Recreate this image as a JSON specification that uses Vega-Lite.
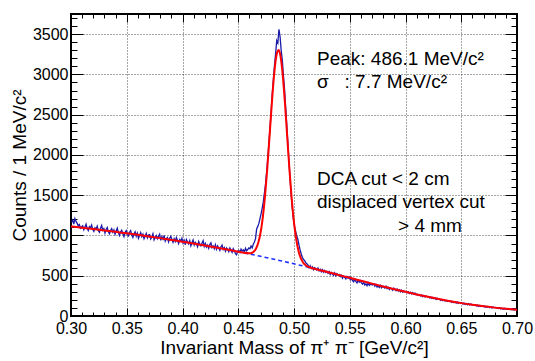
{
  "$schema": "https://vega.github.io/schema/vega-lite/v6.json",
  "width": 446,
  "height": 302,
  "autosize": {"type": "none"},
  "padding": {"left": 71, "top": 14, "right": 18, "bottom": 45},
  "background": "white",
  "config": {
    "view": {"stroke": "black", "strokeWidth": 2},
    "axis": {"labelFont": "Liberation Sans", "titleFont": "Liberation Sans", "labelColor": "black", "titleColor": "black", "titleFontWeight": "normal"}
  },
  "datasets": {
    "one": [{"k": 1}],
    "hist": [
      {"m":0.3005,"n":1165},{"m":0.3015,"n":1190},{"m":0.3025,"n":1140},{"m":0.3035,"n":1210},{"m":0.3045,"n":1175},{"m":0.3055,"n":1150},{"m":0.3065,"n":1120},{"m":0.3075,"n":1135},{"m":0.3085,"n":1090},{"m":0.3095,"n":1105},
      {"m":0.3105,"n":1120},{"m":0.3115,"n":1070},{"m":0.3125,"n":1105},{"m":0.3135,"n":1140},{"m":0.3145,"n":1085},{"m":0.3155,"n":1060},{"m":0.3165,"n":1110},{"m":0.3175,"n":1095},{"m":0.3185,"n":1130},{"m":0.3195,"n":1075},
      {"m":0.3205,"n":1050},{"m":0.3215,"n":1095},{"m":0.3225,"n":1080},{"m":0.3235,"n":1115},{"m":0.3245,"n":1060},{"m":0.3255,"n":1040},{"m":0.3265,"n":1090},{"m":0.3275,"n":1125},{"m":0.3285,"n":1065},{"m":0.3295,"n":1085},
      {"m":0.3305,"n":1030},{"m":0.3315,"n":1075},{"m":0.3325,"n":1100},{"m":0.3335,"n":1045},{"m":0.3345,"n":1020},{"m":0.3355,"n":1060},{"m":0.3365,"n":1085},{"m":0.3375,"n":1040},{"m":0.3385,"n":1070},{"m":0.3395,"n":1015},
      {"m":0.3405,"n":1055},{"m":0.3415,"n":1090},{"m":0.3425,"n":1035},{"m":0.3435,"n":1000},{"m":0.3445,"n":1045},{"m":0.3455,"n":1065},{"m":0.3465,"n":1020},{"m":0.3475,"n":985},{"m":0.3485,"n":1040},{"m":0.3495,"n":1060},
      {"m":0.3505,"n":1010},{"m":0.3515,"n":995},{"m":0.3525,"n":1040},{"m":0.3535,"n":1060},{"m":0.3545,"n":1005},{"m":0.3555,"n":975},{"m":0.3565,"n":1020},{"m":0.3575,"n":1045},{"m":0.3585,"n":990},{"m":0.3595,"n":1030},
      {"m":0.3605,"n":965},{"m":0.3615,"n":1000},{"m":0.3625,"n":1035},{"m":0.3635,"n":985},{"m":0.3645,"n":1015},{"m":0.3655,"n":960},{"m":0.3665,"n":990},{"m":0.3675,"n":1025},{"m":0.3685,"n":970},{"m":0.3695,"n":1005},
      {"m":0.3705,"n":1010},{"m":0.3715,"n":955},{"m":0.3725,"n":980},{"m":0.3735,"n":1020},{"m":0.3745,"n":945},{"m":0.3755,"n":975},{"m":0.3765,"n":1000},{"m":0.3775,"n":960},{"m":0.3785,"n":990},{"m":0.3795,"n":1015},
      {"m":0.3805,"n":940},{"m":0.3815,"n":985},{"m":0.3825,"n":955},{"m":0.3835,"n":1000},{"m":0.3845,"n":930},{"m":0.3855,"n":960},{"m":0.3865,"n":975},{"m":0.3875,"n":920},{"m":0.3885,"n":965},{"m":0.3895,"n":990},
      {"m":0.3905,"n":950},{"m":0.3915,"n":915},{"m":0.3925,"n":960},{"m":0.3935,"n":925},{"m":0.3945,"n":975},{"m":0.3955,"n":940},{"m":0.3965,"n":900},{"m":0.3975,"n":950},{"m":0.3985,"n":930},{"m":0.3995,"n":965},
      {"m":0.4005,"n":905},{"m":0.4015,"n":940},{"m":0.4025,"n":885},{"m":0.4035,"n":950},{"m":0.4045,"n":920},{"m":0.4055,"n":895},{"m":0.4065,"n":935},{"m":0.4075,"n":870},{"m":0.4085,"n":910},{"m":0.4095,"n":945},
      {"m":0.4105,"n":880},{"m":0.4115,"n":915},{"m":0.4125,"n":895},{"m":0.4135,"n":860},{"m":0.4145,"n":925},{"m":0.4155,"n":890},{"m":0.4165,"n":870},{"m":0.4175,"n":905},{"m":0.4185,"n":935},{"m":0.4195,"n":865},
      {"m":0.4205,"n":900},{"m":0.4215,"n":855},{"m":0.4225,"n":880},{"m":0.4235,"n":840},{"m":0.4245,"n":890},{"m":0.4255,"n":910},{"m":0.4265,"n":850},{"m":0.4275,"n":870},{"m":0.4285,"n":835},{"m":0.4295,"n":885},
      {"m":0.4305,"n":830},{"m":0.4315,"n":870},{"m":0.4325,"n":845},{"m":0.4335,"n":815},{"m":0.4345,"n":860},{"m":0.4355,"n":880},{"m":0.4365,"n":825},{"m":0.4375,"n":850},{"m":0.4385,"n":805},{"m":0.4395,"n":845},
      {"m":0.4405,"n":830},{"m":0.4415,"n":800},{"m":0.4425,"n":845},{"m":0.4435,"n":815},{"m":0.4445,"n":790},{"m":0.4455,"n":835},{"m":0.4465,"n":810},{"m":0.4475,"n":775},{"m":0.4485,"n":760},{"m":0.4495,"n":805},
      {"m":0.4505,"n":815},{"m":0.4515,"n":790},{"m":0.4525,"n":830},{"m":0.4535,"n":805},{"m":0.4545,"n":820},{"m":0.4555,"n":795},{"m":0.4565,"n":840},{"m":0.4575,"n":810},{"m":0.4585,"n":825},{"m":0.4595,"n":845},
      {"m":0.4605,"n":835},{"m":0.4615,"n":870},{"m":0.4625,"n":845},{"m":0.4635,"n":890},{"m":0.4645,"n":920},{"m":0.4655,"n":960},{"m":0.4665,"n":1080},{"m":0.4675,"n":1110},{"m":0.4685,"n":1150},{"m":0.4695,"n":1210},
      {"m":0.4705,"n":1270},{"m":0.4715,"n":1340},{"m":0.4725,"n":1420},{"m":0.4735,"n":1530},{"m":0.4745,"n":1640},{"m":0.4755,"n":1790},{"m":0.4765,"n":1960},{"m":0.4775,"n":2150},{"m":0.4785,"n":2330},{"m":0.4795,"n":2540},
      {"m":0.4805,"n":2760},{"m":0.4815,"n":2940},{"m":0.4825,"n":3110},{"m":0.4835,"n":3260},{"m":0.4845,"n":3420},{"m":0.4855,"n":3390},{"m":0.4865,"n":3560},{"m":0.4875,"n":3470},{"m":0.4885,"n":3300},{"m":0.4895,"n":3180},
      {"m":0.4905,"n":2990},{"m":0.4915,"n":2820},{"m":0.4925,"n":2600},{"m":0.4935,"n":2380},{"m":0.4945,"n":2150},{"m":0.4955,"n":1920},{"m":0.4965,"n":1700},{"m":0.4975,"n":1500},{"m":0.4985,"n":1340},{"m":0.4995,"n":1200},
      {"m":0.5005,"n":1110},{"m":0.5015,"n":1050},{"m":0.5025,"n":990},{"m":0.5035,"n":950},{"m":0.5045,"n":880},{"m":0.5055,"n":820},{"m":0.5065,"n":770},{"m":0.5075,"n":730},{"m":0.5085,"n":700},{"m":0.5095,"n":690},
      {"m":0.5105,"n":660},{"m":0.5115,"n":650},{"m":0.5125,"n":635},{"m":0.5135,"n":600},{"m":0.5145,"n":625},{"m":0.5155,"n":590},{"m":0.5165,"n":610},{"m":0.5175,"n":575},{"m":0.5185,"n":600},{"m":0.5195,"n":590},
      {"m":0.5205,"n":570},{"m":0.5215,"n":595},{"m":0.5225,"n":560},{"m":0.5235,"n":580},{"m":0.5245,"n":550},{"m":0.5255,"n":575},{"m":0.5265,"n":545},{"m":0.5275,"n":565},{"m":0.5285,"n":540},{"m":0.5295,"n":555},
      {"m":0.5305,"n":530},{"m":0.5315,"n":550},{"m":0.5325,"n":515},{"m":0.5335,"n":540},{"m":0.5345,"n":520},{"m":0.5355,"n":505},{"m":0.5365,"n":535},{"m":0.5375,"n":500},{"m":0.5385,"n":525},{"m":0.5395,"n":510},
      {"m":0.5405,"n":515},{"m":0.5415,"n":490},{"m":0.5425,"n":505},{"m":0.5435,"n":470},{"m":0.5445,"n":495},{"m":0.5455,"n":480},{"m":0.5465,"n":460},{"m":0.5475,"n":490},{"m":0.5485,"n":470},{"m":0.5495,"n":485},
      {"m":0.5505,"n":450},{"m":0.5515,"n":470},{"m":0.5525,"n":440},{"m":0.5535,"n":425},{"m":0.5545,"n":455},{"m":0.5555,"n":430},{"m":0.5565,"n":410},{"m":0.5575,"n":445},{"m":0.5585,"n":420},{"m":0.5595,"n":435},
      {"m":0.5605,"n":410},{"m":0.5615,"n":395},{"m":0.5625,"n":420},{"m":0.5635,"n":385},{"m":0.5645,"n":400},{"m":0.5655,"n":375},{"m":0.5665,"n":410},{"m":0.5675,"n":380},{"m":0.5685,"n":395},{"m":0.5695,"n":390},
      {"m":0.5705,"n":385},{"m":0.5715,"n":400},{"m":0.5725,"n":370},{"m":0.5735,"n":390},{"m":0.5745,"n":360},{"m":0.5755,"n":375},{"m":0.5765,"n":355},{"m":0.5775,"n":380},{"m":0.5785,"n":350},{"m":0.5795,"n":365},
      {"m":0.5805,"n":360},{"m":0.5815,"n":345},{"m":0.5825,"n":370},{"m":0.5835,"n":340},{"m":0.5845,"n":355},{"m":0.5855,"n":330},{"m":0.5865,"n":350},{"m":0.5875,"n":340},{"m":0.5885,"n":320},{"m":0.5895,"n":345},
      {"m":0.5905,"n":330},{"m":0.5915,"n":315},{"m":0.5925,"n":335},{"m":0.5935,"n":310},{"m":0.5945,"n":325},{"m":0.5955,"n":300},{"m":0.5965,"n":320},{"m":0.5975,"n":295},{"m":0.5985,"n":310},{"m":0.5995,"n":300},
      {"m":0.6005,"n":305},{"m":0.6015,"n":290},{"m":0.6025,"n":300},{"m":0.6035,"n":280},{"m":0.6045,"n":295},{"m":0.6055,"n":275},{"m":0.6065,"n":290},{"m":0.6075,"n":270},{"m":0.6085,"n":285},{"m":0.6095,"n":265},
      {"m":0.6105,"n":270},{"m":0.6115,"n":255},{"m":0.6125,"n":265},{"m":0.6135,"n":250},{"m":0.6145,"n":260},{"m":0.6155,"n":240},{"m":0.6165,"n":255},{"m":0.6175,"n":235},{"m":0.6185,"n":250},{"m":0.6195,"n":240},
      {"m":0.6205,"n":240},{"m":0.6215,"n":225},{"m":0.6225,"n":235},{"m":0.6235,"n":220},{"m":0.6245,"n":230},{"m":0.6255,"n":215},{"m":0.6265,"n":225},{"m":0.6275,"n":205},{"m":0.6285,"n":220},{"m":0.6295,"n":210},
      {"m":0.6305,"n":210},{"m":0.6315,"n":195},{"m":0.6325,"n":205},{"m":0.6335,"n":190},{"m":0.6345,"n":200},{"m":0.6355,"n":185},{"m":0.6365,"n":195},{"m":0.6375,"n":180},{"m":0.6385,"n":190},{"m":0.6395,"n":185},
      {"m":0.6405,"n":185},{"m":0.6415,"n":170},{"m":0.6425,"n":180},{"m":0.6435,"n":165},{"m":0.6445,"n":175},{"m":0.6455,"n":160},{"m":0.6465,"n":172},{"m":0.6475,"n":158},{"m":0.6485,"n":168},{"m":0.6495,"n":162},
      {"m":0.6505,"n":162},{"m":0.6515,"n":150},{"m":0.6525,"n":158},{"m":0.6535,"n":145},{"m":0.6545,"n":155},{"m":0.6555,"n":140},{"m":0.6565,"n":152},{"m":0.6575,"n":138},{"m":0.6585,"n":148},{"m":0.6595,"n":142},
      {"m":0.6605,"n":140},{"m":0.6615,"n":130},{"m":0.6625,"n":138},{"m":0.6635,"n":125},{"m":0.6645,"n":133},{"m":0.6655,"n":120},{"m":0.6665,"n":130},{"m":0.6675,"n":118},{"m":0.6685,"n":127},{"m":0.6695,"n":122},
      {"m":0.6705,"n":122},{"m":0.6715,"n":112},{"m":0.6725,"n":118},{"m":0.6735,"n":108},{"m":0.6745,"n":115},{"m":0.6755,"n":104},{"m":0.6765,"n":112},{"m":0.6775,"n":100},{"m":0.6785,"n":110},{"m":0.6795,"n":105},
      {"m":0.6805,"n":106},{"m":0.6815,"n":98},{"m":0.6825,"n":102},{"m":0.6835,"n":92},{"m":0.6845,"n":100},{"m":0.6855,"n":88},{"m":0.6865,"n":97},{"m":0.6875,"n":85},{"m":0.6885,"n":95},{"m":0.6895,"n":90},
      {"m":0.6905,"n":92},{"m":0.6915,"n":84},{"m":0.6925,"n":89},{"m":0.6935,"n":80},{"m":0.6945,"n":87},{"m":0.6955,"n":78},{"m":0.6965,"n":85},{"m":0.6975,"n":75},{"m":0.6985,"n":83},{"m":0.6995,"n":79}
    ],
    "bg": [
      {"m":0.30,"b":1112},{"m":0.31,"b":1096},{"m":0.32,"b":1080},{"m":0.33,"b":1063},{"m":0.34,"b":1045},{"m":0.35,"b":1027},{"m":0.36,"b":1008},{"m":0.37,"b":988},{"m":0.38,"b":967},{"m":0.39,"b":945},
      {"m":0.40,"b":923},{"m":0.41,"b":900},{"m":0.42,"b":876},{"m":0.43,"b":851},{"m":0.44,"b":825},{"m":0.45,"b":798},{"m":0.46,"b":770},{"m":0.47,"b":741},{"m":0.48,"b":711},{"m":0.49,"b":680},
      {"m":0.50,"b":648},{"m":0.51,"b":615},{"m":0.52,"b":581},{"m":0.53,"b":546},{"m":0.54,"b":510},{"m":0.55,"b":474},{"m":0.56,"b":438},{"m":0.57,"b":402},{"m":0.58,"b":367},{"m":0.59,"b":333},
      {"m":0.60,"b":300},{"m":0.61,"b":268},{"m":0.62,"b":238},{"m":0.63,"b":210},{"m":0.64,"b":184},{"m":0.65,"b":160},{"m":0.66,"b":139},{"m":0.67,"b":120},{"m":0.68,"b":104},{"m":0.69,"b":90},{"m":0.70,"b":78}
    ],
    "fit": [
      {"m":0.30,"f":1112},{"m":0.31,"f":1096},{"m":0.32,"f":1080},{"m":0.33,"f":1063},{"m":0.34,"f":1045},{"m":0.35,"f":1027},{"m":0.36,"f":1008},{"m":0.37,"f":988},{"m":0.38,"f":967},{"m":0.39,"f":945},
      {"m":0.40,"f":923},{"m":0.41,"f":900},{"m":0.42,"f":876},{"m":0.43,"f":851},{"m":0.44,"f":825},{"m":0.45,"f":798},{"m":0.455,"f":785},{"m":0.46,"f":778},{"m":0.462,"f":783},{"m":0.464,"f":800},
      {"m":0.466,"f":838},{"m":0.468,"f":912},{"m":0.470,"f":1034},{"m":0.472,"f":1223},{"m":0.474,"f":1488},{"m":0.476,"f":1827},{"m":0.478,"f":2218},{"m":0.480,"f":2618},{"m":0.482,"f":2970},{"m":0.484,"f":3214},
      {"m":0.485,"f":3278},{"m":0.486,"f":3302},{"m":0.487,"f":3281},{"m":0.488,"f":3218},{"m":0.490,"f":2976},{"m":0.492,"f":2620},{"m":0.494,"f":2209},{"m":0.496,"f":1803},{"m":0.498,"f":1445},{"m":0.500,"f":1160},
      {"m":0.502,"f":951},{"m":0.504,"f":810},{"m":0.506,"f":721},{"m":0.508,"f":668},{"m":0.510,"f":636},{"m":0.512,"f":617},{"m":0.514,"f":605},{"m":0.52,"f":581},{"m":0.53,"f":546},{"m":0.54,"f":510},
      {"m":0.55,"f":474},{"m":0.56,"f":438},{"m":0.57,"f":402},{"m":0.58,"f":367},{"m":0.59,"f":333},{"m":0.60,"f":300},{"m":0.61,"f":268},{"m":0.62,"f":238},{"m":0.63,"f":210},{"m":0.64,"f":184},
      {"m":0.65,"f":160},{"m":0.66,"f":139},{"m":0.67,"f":120},{"m":0.68,"f":104},{"m":0.69,"f":90},{"m":0.70,"f":78}
    ]
  },
  "resolve": {"scale": {"x": "independent", "y": "independent"}, "axis": {"x": "independent", "y": "independent"}},
  "layer": [
    {
      "data": {"name": "hist"},
      "mark": {"type": "line", "color": "#1a1aa8", "strokeWidth": 1.3},
      "encoding": {
        "x": {"field": "m", "type": "quantitative", "scale": {"domain": [0.3, 0.7], "nice": false, "zero": false},
          "axis": {"orient": "bottom", "domain": false, "values": [0.3, 0.35, 0.4, 0.45, 0.5, 0.55, 0.6, 0.65, 0.7], "format": ".2f", "ticks": true, "tickSize": -8, "tickWidth": 1, "tickColor": "black", "labelFontSize": 16, "labelPadding": 12, "labelFlush": false, "labelOverlap": false,
            "grid": true, "gridColor": "#000000", "gridDash": [1, 2], "gridOpacity": 0.7, "gridWidth": 1,
            "title": "Invariant Mass of π⁺ π⁻ [GeV/c²]", "titleFontSize": 19, "titlePadding": 2}},
        "y": {"field": "n", "type": "quantitative", "scale": {"domain": [0, 3750], "nice": false},
          "axis": {"orient": "left", "domain": false, "values": [0, 500, 1000, 1500, 2000, 2500, 3000, 3500], "format": "d", "ticks": true, "tickSize": -12, "tickWidth": 1, "tickColor": "black", "labelFontSize": 16, "labelPadding": 15, "labelOverlap": false, "labelFlush": false,
            "grid": true, "gridColor": "#000000", "gridDash": [1, 2], "gridOpacity": 0.7, "gridWidth": 1,
            "title": "Counts / 1 MeV/c²", "titleFontSize": 19, "titlePadding": 3}}
      }
    },
    {
      "data": {"name": "bg"},
      "mark": {"type": "line", "color": "#2030ff", "strokeWidth": 1.6, "strokeDash": [4, 3], "interpolate": "monotone"},
      "encoding": {
        "x": {"field": "m", "type": "quantitative", "scale": {"domain": [0.3, 0.7], "nice": false, "zero": false},
          "axis": {"orient": "bottom", "domain": false, "values": [0.31, 0.32, 0.33, 0.34, 0.36, 0.37, 0.38, 0.39, 0.41, 0.42, 0.43, 0.44, 0.46, 0.47, 0.48, 0.49, 0.51, 0.52, 0.53, 0.54, 0.56, 0.57, 0.58, 0.59, 0.61, 0.62, 0.63, 0.64, 0.66, 0.67, 0.68, 0.69], "labels": false, "grid": false, "title": null, "ticks": true, "tickSize": -4, "tickWidth": 1, "tickColor": "black"}},
        "y": {"field": "b", "type": "quantitative", "scale": {"domain": [0, 3750], "nice": false},
          "axis": {"orient": "left", "domain": false, "values": [100, 200, 300, 400, 600, 700, 800, 900, 1100, 1200, 1300, 1400, 1600, 1700, 1800, 1900, 2100, 2200, 2300, 2400, 2600, 2700, 2800, 2900, 3100, 3200, 3300, 3400, 3600, 3700], "labels": false, "grid": false, "title": null, "ticks": true, "tickSize": -6, "tickWidth": 1, "tickColor": "black"}}
      }
    },
    {
      "data": {"name": "fit"},
      "mark": {"type": "line", "color": "#ff0000", "strokeWidth": 2, "interpolate": "monotone"},
      "encoding": {
        "x": {"field": "m", "type": "quantitative", "scale": {"domain": [0.3, 0.7], "nice": false, "zero": false},
          "axis": {"orient": "top", "domain": false, "values": [0.3, 0.35, 0.4, 0.45, 0.5, 0.55, 0.6, 0.65, 0.7], "labels": false, "grid": false, "title": null, "ticks": true, "tickSize": -8, "tickWidth": 1, "tickColor": "black"}},
        "y": {"field": "f", "type": "quantitative", "scale": {"domain": [0, 3750], "nice": false},
          "axis": {"orient": "right", "domain": false, "values": [0, 500, 1000, 1500, 2000, 2500, 3000, 3500], "labels": false, "grid": false, "title": null, "ticks": true, "tickSize": -12, "tickWidth": 1, "tickColor": "black"}}
      }
    },
    {
      "data": {"name": "one"},
      "mark": {"type": "text", "text": "Peak: 486.1 MeV/c²", "align": "left", "baseline": "alphabetic", "font": "Liberation Sans", "fontSize": 19, "color": "black"},
      "encoding": {
        "x": {"datum": 0.5206, "type": "quantitative", "scale": {"domain": [0.3, 0.7], "nice": false, "zero": false},
          "axis": {"orient": "top", "domain": false, "values": [0.31, 0.32, 0.33, 0.34, 0.36, 0.37, 0.38, 0.39, 0.41, 0.42, 0.43, 0.44, 0.46, 0.47, 0.48, 0.49, 0.51, 0.52, 0.53, 0.54, 0.56, 0.57, 0.58, 0.59, 0.61, 0.62, 0.63, 0.64, 0.66, 0.67, 0.68, 0.69], "labels": false, "grid": false, "title": null, "ticks": true, "tickSize": -4, "tickWidth": 1, "tickColor": "black"}},
        "y": {"datum": 3117, "type": "quantitative", "scale": {"domain": [0, 3750], "nice": false},
          "axis": {"orient": "right", "domain": false, "values": [100, 200, 300, 400, 600, 700, 800, 900, 1100, 1200, 1300, 1400, 1600, 1700, 1800, 1900, 2100, 2200, 2300, 2400, 2600, 2700, 2800, 2900, 3100, 3200, 3300, 3400, 3600, 3700], "labels": false, "grid": false, "title": null, "ticks": true, "tickSize": -6, "tickWidth": 1, "tickColor": "black"}}
      }
    },
    {
      "data": {"name": "one"},
      "mark": {"type": "text", "text": "σ\u00a0\u00a0\u00a0: 7.7 MeV/c²", "align": "left", "baseline": "alphabetic", "font": "Liberation Sans", "fontSize": 19, "color": "black"},
      "encoding": {
        "x": {"datum": 0.5206, "type": "quantitative", "scale": {"domain": [0.3, 0.7], "nice": false, "zero": false}, "axis": null},
        "y": {"datum": 2837, "type": "quantitative", "scale": {"domain": [0, 3750], "nice": false}, "axis": null}
      }
    },
    {
      "data": {"name": "one"},
      "mark": {"type": "text", "text": "DCA cut < 2 cm", "align": "left", "baseline": "alphabetic", "font": "Liberation Sans", "fontSize": 19, "color": "black"},
      "encoding": {
        "x": {"datum": 0.5206, "type": "quantitative", "scale": {"domain": [0.3, 0.7], "nice": false, "zero": false}, "axis": null},
        "y": {"datum": 1627, "type": "quantitative", "scale": {"domain": [0, 3750], "nice": false}, "axis": null}
      }
    },
    {
      "data": {"name": "one"},
      "mark": {"type": "text", "text": "displaced vertex cut", "align": "left", "baseline": "alphabetic", "font": "Liberation Sans", "fontSize": 19, "color": "black"},
      "encoding": {
        "x": {"datum": 0.5206, "type": "quantitative", "scale": {"domain": [0.3, 0.7], "nice": false, "zero": false}, "axis": null},
        "y": {"datum": 1335, "type": "quantitative", "scale": {"domain": [0, 3750], "nice": false}, "axis": null}
      }
    },
    {
      "data": {"name": "one"},
      "mark": {"type": "text", "text": "> 4 mm", "align": "left", "baseline": "alphabetic", "font": "Liberation Sans", "fontSize": 19, "color": "black"},
      "encoding": {
        "x": {"datum": 0.5933, "type": "quantitative", "scale": {"domain": [0.3, 0.7], "nice": false, "zero": false}, "axis": null},
        "y": {"datum": 1043, "type": "quantitative", "scale": {"domain": [0, 3750], "nice": false}, "axis": null}
      }
    }
  ]
}
